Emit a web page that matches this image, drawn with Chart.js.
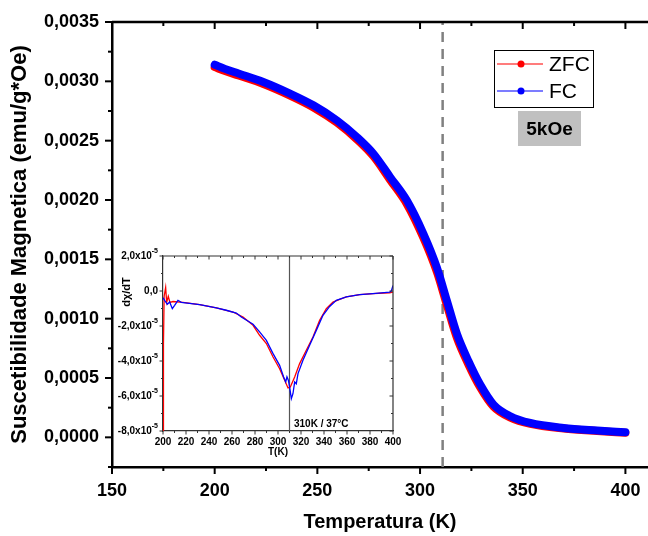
<!DOCTYPE html>
<html lang="pt">
<head>
<meta charset="UTF-8">
<title>Suscetibilidade Magnetica</title>
<script src="https://cdn.jsdelivr.net/npm/chart.js@4.4.1/dist/chart.umd.min.js"></script>
<style>
  body { margin: 0; background: #fff; }
  #wrap { position: relative; width: 648px; height: 536px; }
  #main { position: absolute; left: 0; top: 0; }
  #inset { position: absolute; left: 113px; top: 240px; }
</style>
</head>
<body>
<div id="wrap">
  <canvas id="main" width="648" height="536"></canvas>
  <canvas id="inset" width="300" height="222"></canvas>
</div>
<script>
// main curve: temperature (K) and susceptibility (emu/g*Oe)
const T_MAIN = [200, 205, 211.6, 223.7, 236.7, 248.1, 259.5, 269.3, 277.3, 285.5, 293.6, 301.7, 308.2, 313.1, 318, 323.6, 329.3, 335.8, 344, 353.7, 369.9, 386.2, 400];
const ZFC = [0.00312, 0.003087, 0.003049, 0.002978, 0.00288, 0.00278, 0.002652, 0.00251, 0.002368, 0.002167, 0.001965, 0.001678, 0.001393, 0.001112, 0.000835, 0.000612, 0.00042, 0.000258, 0.000166, 0.000113, 0.000074, 0.000053, 0.000039];
const FC = [0.00314, 0.003105, 0.003066, 0.002995, 0.002897, 0.002798, 0.002671, 0.00253, 0.00239, 0.002192, 0.001995, 0.001713, 0.001431, 0.00115, 0.00087, 0.000642, 0.000445, 0.000276, 0.000178, 0.000121, 0.000079, 0.000057, 0.000042];
const MARK_T = 311;          // dashed line
const FIELD_LABEL = '5kOe';

// inset: dchi/dT in units of 1e-5
const D_T_ZFC = [200, 200.4, 201, 202.3, 203.2, 204.6, 206, 208.7, 217.4, 231.9, 246.4, 260.9, 269.6, 278.3, 284, 289.9, 295.7, 301.4, 305.8, 308.7, 310.7, 314.5, 318.8, 324.6, 330.4, 336.2, 342, 347.8, 353.6, 359.4, 371, 382.6, 397.1, 400];
const D_ZFC = [-9.5, -3.0, -0.3, 0.2, -0.65, -0.3, -0.65, -0.6, -0.65, -0.78, -0.97, -1.2, -1.49, -1.96, -2.53, -3.0, -3.77, -4.44, -5.1, -5.54, -5.49, -4.91, -4.15, -3.39, -2.63, -1.68, -1.01, -0.63, -0.48, -0.34, -0.21, -0.15, -0.1, -0.06];
const D_T_FC = [200, 201.4, 203.8, 205.8, 208.1, 210.1, 213, 215.9, 231.9, 246.4, 255, 263.8, 268.1, 278.3, 284, 289.9, 295.7, 301.4, 304.9, 306.7, 307.8, 309, 310.1, 311.6, 313, 314.5, 315.9, 317.4, 321.7, 327.5, 333.3, 339.1, 344.9, 350.7, 359.4, 371, 382.6, 397.1, 398.6, 400];
const D_FC = [-0.38, -0.53, -0.76, -0.63, -1.01, -0.82, -0.53, -0.65, -0.78, -0.97, -1.1, -1.26, -1.49, -1.9, -2.34, -2.82, -3.58, -4.25, -4.91, -5.2, -4.91, -5.1, -5.49, -6.15, -5.87, -5.2, -5.3, -4.72, -3.96, -3.1, -2.25, -1.39, -0.88, -0.53, -0.34, -0.21, -0.15, -0.06, 0, 0.32];
const INSET_MARK_T = 310;
const INSET_NOTE = '310K / 37°C';

const FONT = '"Liberation Sans", Arial, sans-serif';
const RED = '#ff0000', BLUE = '#0000ff';
Chart.defaults.font.family = FONT;
Chart.defaults.color = '#000';

const zip = (xs, ys) => xs.map((x, i) => ({ x: x, y: ys[i] }));

// axis frame + major/minor tick marks
function framePlugin(name, spec) {
  return {
    id: 'frame' + name,
    afterDraw(chart) {
      const ctx = chart.ctx, a = chart.chartArea;
      ctx.save();
      ctx.strokeStyle = spec.color;
      ctx.lineWidth = spec.edgeWidth;
      ctx.beginPath();
      spec.edges.forEach(e => {
        if (e === 'top') { ctx.moveTo(a.left, a.top); ctx.lineTo(a.right, a.top); }
        if (e === 'right') { ctx.moveTo(a.right, a.top); ctx.lineTo(a.right, a.bottom); }
      });
      ctx.stroke();
      ctx.lineWidth = spec.tickWidth;
      spec.sides.forEach(s => {
        const scale = chart.scales[s.axis];
        scale.ticks.forEach(t => {
          const p = scale.getPixelForValue(t.value);
          const len = (t.label !== '' ? spec.major : spec.minor) * s.dir;
          ctx.beginPath();
          if (s.edge === 'bottom') { ctx.moveTo(p, a.bottom); ctx.lineTo(p, a.bottom + len); }
          if (s.edge === 'top') { ctx.moveTo(p, a.top); ctx.lineTo(p, a.top - len); }
          if (s.edge === 'left') { ctx.moveTo(a.left, p); ctx.lineTo(a.left - len, p); }
          if (s.edge === 'right') { ctx.moveTo(a.right, p); ctx.lineTo(a.right + len, p); }
          ctx.stroke();
        });
      });
      ctx.restore();
    }
  };
}

const legendBox = {
  id: 'legendBox',
  afterDraw(chart) {
    const ctx = chart.ctx;
    const items = ['ZFC', 'FC'].map(n => chart.data.datasets.find(d => d.label === n));
    ctx.save();
    ctx.strokeStyle = '#000';
    ctx.lineWidth = 1;
    ctx.strokeRect(494.5, 50.5, 99, 57);
    items.forEach((d, i) => {
      const y = 64 + i * 27;
      ctx.strokeStyle = d.legendLine;
      ctx.lineWidth = 1.5;
      ctx.beginPath(); ctx.moveTo(497, y); ctx.lineTo(543, y); ctx.stroke();
      ctx.fillStyle = d.borderColor;
      ctx.beginPath(); ctx.arc(521, y, 3.5, 0, 2 * Math.PI); ctx.fill();
      ctx.fillStyle = '#000';
      ctx.font = '21px ' + FONT;
      ctx.textBaseline = 'middle';
      ctx.fillText(d.label, 549, y + 1);
    });
    ctx.fillStyle = '#c0c0c0';
    ctx.fillRect(518, 111, 63, 35);
    ctx.fillStyle = '#000';
    ctx.font = 'bold 19px ' + FONT;
    ctx.textAlign = 'center';
    ctx.textBaseline = 'middle';
    ctx.fillText(FIELD_LABEL, 549.5, 129.5);
    ctx.restore();
  }
};

new Chart(document.getElementById('main'), {
  type: 'line',
  data: {
    datasets: [
      // first dataset is drawn on top
      { label: 'FC', data: zip(T_MAIN, FC), borderColor: BLUE, legendLine: '#5050ff', borderWidth: 8, pointRadius: 0, cubicInterpolationMode: 'monotone', borderCapStyle: 'round' },
      { label: 'ZFC', data: zip(T_MAIN, ZFC), borderColor: RED, legendLine: '#ff5050', borderWidth: 8, pointRadius: 0, cubicInterpolationMode: 'monotone', borderCapStyle: 'round' },
      { label: 'mark', data: [{ x: MARK_T, y: -0.00025 }, { x: MARK_T, y: 0.0035 }], borderColor: '#808080', borderWidth: 2.5, borderDash: [10, 7], pointRadius: 0 }
    ]
  },
  options: {
    responsive: false,
    animation: false,
    devicePixelRatio: 1,
    layout: { padding: { top: 22, right: 0, left: 0, bottom: 0 } },
    plugins: { legend: { display: false }, tooltip: { enabled: false } },
    scales: {
      x: {
        type: 'linear', min: 150, max: 411,
        afterFit: s => { s.height = 69; s.paddingLeft = 0; s.paddingRight = 0; },
        ticks: { stepSize: 25, includeBounds: false, autoSkip: false, maxRotation: 0, padding: 13,
          font: { size: 18, weight: 'bold' }, callback: v => v % 50 === 0 ? String(v) : '' },
        grid: { display: false, drawTicks: false },
        border: { display: true, color: '#000', width: 2.5 },
        title: { display: true, text: 'Temperatura (K)', font: { size: 20, weight: 'bold' }, padding: { top: 0, bottom: 2 } }
      },
      y: {
        type: 'linear', min: -0.00025, max: 0.0035,
        afterFit: s => { s.width = 112; s.paddingTop = 0; s.paddingBottom = 0; },
        ticks: { stepSize: 0.00025, autoSkip: false, padding: 13,
          font: { size: 18, weight: 'bold' },
          callback: v => Math.round(v / 0.00025) % 2 === 0 ? v.toFixed(4).replace('.', ',') : '' },
        grid: { display: false, drawTicks: false },
        border: { display: true, color: '#000', width: 2.5 },
        title: { display: true, text: 'Suscetibilidade Magnetica (emu/g*Oe)', font: { size: 22, weight: 'bold' }, padding: { top: 7, bottom: 0 } }
      }
    }
  },
  plugins: [
    framePlugin('Main', { color: '#000', edgeWidth: 2.5, tickWidth: 2, major: 7, minor: 4, edges: ['top'],
      sides: [{ axis: 'x', edge: 'bottom', dir: 1 }, { axis: 'x', edge: 'top', dir: -1 }, { axis: 'y', edge: 'left', dir: 1 }] }),
    legendBox
  ]
});

// inset texts: y tick labels with superscript exponent, y title, note
const insetText = {
  id: 'insetText',
  afterDraw(chart) {
    const ctx = chart.ctx, a = chart.chartArea, ys = chart.scales.y;
    ctx.save();
    ctx.fillStyle = '#000';
    ys.ticks.forEach(t => {
      if (t.label === '') return;
      const p = ys.getPixelForValue(t.value);
      let right = a.left - 5;
      ctx.textAlign = 'right';
      if (t.value !== 0) {
        ctx.font = 'bold 7px ' + FONT;
        ctx.textBaseline = 'middle';
        ctx.fillText('-5', right, p - 5);
        right -= ctx.measureText('-5').width;
      }
      ctx.font = 'bold 10px ' + FONT;
      ctx.textBaseline = 'middle';
      ctx.fillText(t.label, right, p + 0.5);
    });
    ctx.textAlign = 'left';
    ctx.font = 'bold 10px ' + FONT;
    ctx.textBaseline = 'alphabetic';
    ctx.fillText(INSET_NOTE, 181, 187);
    ctx.translate(14, 52);
    ctx.rotate(-Math.PI / 2);
    ctx.font = 'bold 11px ' + FONT;
    ctx.textAlign = 'center';
    ctx.textBaseline = 'middle';
    ctx.fillText('dχ/dT', 0, 0);
    ctx.restore();
  }
};

new Chart(document.getElementById('inset'), {
  type: 'line',
  data: {
    datasets: [
      { data: zip(D_T_FC, D_FC), borderColor: BLUE, borderWidth: 1.3, pointRadius: 0 },
      { data: zip(D_T_ZFC, D_ZFC), borderColor: RED, borderWidth: 1.3, pointRadius: 0 },
      { data: [{ x: INSET_MARK_T, y: -8 }, { x: INSET_MARK_T, y: 2 }], borderColor: '#555', borderWidth: 1.2, pointRadius: 0 }
    ]
  },
  options: {
    responsive: false,
    animation: false,
    devicePixelRatio: 1,
    layout: { padding: { top: 16, right: 20, left: 0, bottom: 0 } },
    plugins: { legend: { display: false }, tooltip: { enabled: false } },
    scales: {
      x: {
        type: 'linear', min: 200, max: 400,
        afterFit: s => { s.height = 31; s.paddingLeft = 0; s.paddingRight = 0; },
        ticks: { stepSize: 10, autoSkip: false, maxRotation: 0, padding: 5,
          font: { size: 10, weight: 'bold' }, callback: v => v % 20 === 0 ? String(v) : '' },
        grid: { display: false, drawTicks: false },
        border: { display: true, color: '#333', width: 1.2 },
        title: { display: true, text: 'T(K)', font: { size: 10, weight: 'bold' }, padding: { top: 0, bottom: 4 } }
      },
      y: {
        type: 'linear', min: -8, max: 2,
        afterFit: s => { s.width = 50; s.paddingTop = 0; s.paddingBottom = 0; },
        ticks: { display: false, stepSize: 1, autoSkip: false,
          callback: v => Math.round(v) % 2 !== 0 ? '' : (v === 0 ? '0,0' : v.toFixed(1).replace('.', ',') + 'x10') },
        grid: { display: false, drawTicks: false },
        border: { display: true, color: '#333', width: 1.2 }
      }
    }
  },
  plugins: [
    framePlugin('Inset', { color: '#333', edgeWidth: 1.2, tickWidth: 1, major: 3.5, minor: 2, edges: ['top', 'right'],
      sides: [{ axis: 'x', edge: 'bottom', dir: 1 }, { axis: 'x', edge: 'top', dir: -1 },
              { axis: 'y', edge: 'left', dir: 1 }, { axis: 'y', edge: 'right', dir: -1 }] }),
    insetText
  ]
});
</script>
</body>
</html>
